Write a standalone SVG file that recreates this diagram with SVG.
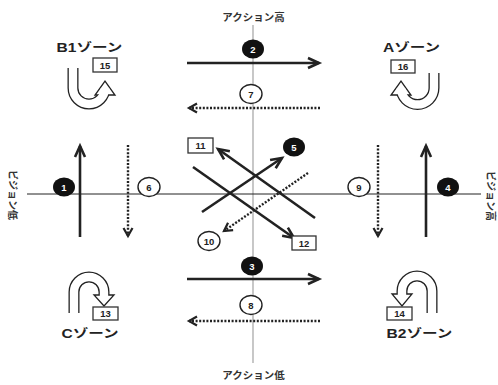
<svg xmlns="http://www.w3.org/2000/svg" width="498" height="385" viewBox="0 0 498 385">
<style>
.bg{fill:#fff}
.axisv{stroke:#aaa;stroke-width:1.3;fill:none}
.axish{stroke:#222;stroke-width:1;fill:none}
.solid{stroke:#222;stroke-width:2.6;fill:none;marker-end:url(#ah)}
.dot{stroke:#222;stroke-width:2.4;fill:none;stroke-dasharray:2 1.6;marker-end:url(#ahd)}
.plain{stroke:#222;stroke-width:2.6;fill:none}
.fc{fill:#111}
.oc{fill:#fff;stroke:#222;stroke-width:1.4}
.box{fill:#fff;stroke:#333;stroke-width:1.3}
.nw{font-family:"Liberation Sans",Arial,sans-serif;font-weight:bold;font-size:9.5px;fill:#fff;text-anchor:middle;dominant-baseline:central}
.nb{font-family:"Liberation Sans",Arial,sans-serif;font-weight:bold;font-size:9.5px;fill:#222;text-anchor:middle;dominant-baseline:central}
.zone{font-family:"Liberation Sans","Noto Sans CJK JP",sans-serif;font-weight:bold;font-size:12px;fill:#222;text-anchor:middle}
.ax{font-family:"Liberation Sans","Noto Sans CJK JP",sans-serif;font-weight:bold;font-size:10px;fill:#333;text-anchor:middle}
.ushaft{stroke:#222;stroke-width:11;fill:none}
.uin{stroke:#fff;stroke-width:8.4;fill:none}
.uhead{fill:#fff;stroke:#222;stroke-width:1.3;stroke-linejoin:miter}
</style>
<defs>
<marker id="ah" markerUnits="userSpaceOnUse" markerWidth="20" markerHeight="20" refX="0" refY="0" viewBox="-15 -10 20 20" orient="auto" overflow="visible">
<path d="M-11,-5 L0,0 L-11,5" fill="none" stroke="#222" stroke-width="2.6"/>
</marker>
<marker id="ahd" markerUnits="userSpaceOnUse" markerWidth="20" markerHeight="20" refX="0" refY="0" viewBox="-15 -10 20 20" orient="auto" overflow="visible">
<path d="M-8,-4.5 L0,0 L-8,4.5" fill="none" stroke="#222" stroke-width="2.2"/>
</marker>
</defs>
<rect class="bg" width="498" height="385"/>

<g id="connectors">
<line class="axisv" x1="253" y1="25" x2="253" y2="363"/>
<line class="axish" x1="27" y1="194" x2="481" y2="194"/>
<line class="solid" x1="187" y1="63" x2="319" y2="63"/>
<line class="dot" x1="320" y1="108" x2="189" y2="108"/>
<line class="solid" x1="187" y1="279" x2="319" y2="279"/>
<line class="dot" x1="320" y1="321" x2="189" y2="321"/>
<line class="solid" x1="80" y1="237" x2="80" y2="146"/>
<line class="dot" x1="128" y1="145" x2="128" y2="236"/>
<line class="dot" x1="378" y1="145" x2="378" y2="236"/>
<line class="solid" x1="426" y1="237" x2="426" y2="146"/>
<line class="solid" x1="315" y1="218" x2="218" y2="149"/>
<line class="solid" x1="193" y1="167" x2="294" y2="238"/>
<line class="solid" x1="202" y1="212" x2="282" y2="158"/>
<line class="dot" x1="308" y1="173" x2="224" y2="231"/>
</g>

<g id="zoneB1">
<path class="ushaft" d="M73,68 V88 A16,16 0 0 0 105,88 V95"/>
<polygon class="uhead" points="95,95 115,95 105,81"/>
<path class="uin" d="M73,68 V88 A16,16 0 0 0 105,88 V94"/>
<text class="zone" transform="translate(89.5,52) scale(1.3,1)">B1ゾーン</text>
<rect class="box" x="93" y="58" width="24" height="14"/>
<text class="nb" x="105" y="65">15</text>
</g>

<g id="zoneA">
<path class="ushaft" d="M434,73 V88 A16.5,16.5 0 0 1 401,88 V95"/>
<polygon class="uhead" points="391,95 411,95 401,81"/>
<path class="uin" d="M434,73 V88 A16.5,16.5 0 0 1 401,88 V94"/>
<text class="zone" transform="translate(411.5,52) scale(1.3,1)">Aゾーン</text>
<rect class="box" x="391" y="60" width="24" height="13"/>
<text class="nb" x="403" y="66.5">16</text>
</g>

<g id="zoneC">
<path class="ushaft" d="M74,313 V292 A15,15 0 0 1 104,292 V295"/>
<polygon class="uhead" points="94,295 114,295 104,306"/>
<path class="uin" d="M74,313 V292 A15,15 0 0 1 104,292 V296"/>
<rect class="box" x="93" y="307" width="25" height="13"/>
<text class="nb" x="105.5" y="313.5">13</text>
<text class="zone" transform="translate(90,338) scale(1.3,1)">Cゾーン</text>
</g>

<g id="zoneB2">
<path class="ushaft" d="M432,313 V291 A15,15 0 0 0 402,291 V294"/>
<polygon class="uhead" points="392,294 412,294 402,306"/>
<path class="uin" d="M432,313 V291 A15,15 0 0 0 402,291 V295"/>
<rect class="box" x="387" y="307" width="25" height="13"/>
<text class="nb" x="399.5" y="313.5">14</text>
<text class="zone" transform="translate(419.5,338) scale(1.3,1)">B2ゾーン</text>
</g>

<g id="labels">
<text class="ax" transform="translate(253.5,21) scale(1.05,1)">アクション高</text>
<text class="ax" transform="translate(253.5,379) scale(1.05,1)">アクション低</text>
<text class="ax" dominant-baseline="central" transform="translate(12,195) rotate(90)">ビジョン低</text>
<text class="ax" dominant-baseline="central" transform="translate(490,196) rotate(90)">ビジョン高</text>
</g>

<g id="n1"><ellipse class="fc" cx="64" cy="187" rx="11" ry="9.5"/><text class="nw" x="64" y="187.5">1</text></g>
<g id="n2"><ellipse class="fc" cx="253" cy="49" rx="11" ry="9.5"/><text class="nw" x="253" y="49.5">2</text></g>
<g id="n3"><ellipse class="fc" cx="252" cy="266" rx="11" ry="9.5"/><text class="nw" x="252" y="266.5">3</text></g>
<g id="n4"><ellipse class="fc" cx="448" cy="187" rx="11" ry="9.5"/><text class="nw" x="448" y="187.5">4</text></g>
<g id="n5"><ellipse class="fc" cx="294" cy="147" rx="11" ry="9.5"/><text class="nw" x="294" y="147.5">5</text></g>
<g id="n6"><ellipse class="oc" cx="149" cy="187" rx="11" ry="9.5"/><text class="nb" x="149" y="187.5">6</text></g>
<g id="n7"><ellipse class="oc" cx="251" cy="94" rx="11" ry="9.5"/><text class="nb" x="251" y="94.5">7</text></g>
<g id="n8"><ellipse class="oc" cx="251" cy="305" rx="11" ry="9.5"/><text class="nb" x="251" y="305.5">8</text></g>
<g id="n9"><ellipse class="oc" cx="359" cy="187" rx="11" ry="9.5"/><text class="nb" x="359" y="187.5">9</text></g>
<g id="n10"><ellipse class="oc" cx="209" cy="241" rx="11" ry="9.5"/><text class="nb" x="209" y="241.5">10</text></g>
<g id="n11"><rect class="box" x="188" y="138" width="25" height="15"/><text class="nb" x="200.5" y="145.5">11</text></g>
<g id="n12"><rect class="box" x="292" y="236" width="24" height="14"/><text class="nb" x="304" y="243">12</text></g>
</svg>
